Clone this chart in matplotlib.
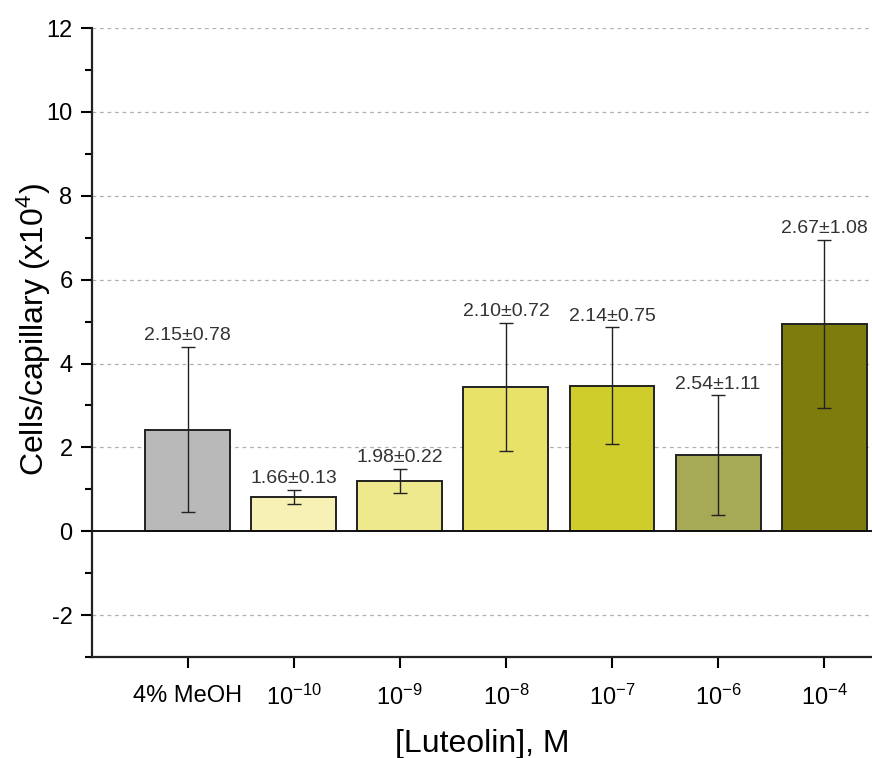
import numpy as np
import matplotlib.pyplot as plt
from matplotlib.ticker import MultipleLocator

plt.rcParams['font.family'] = ['Liberation Sans', 'DejaVu Sans']
plt.rcParams['mathtext.fontset'] = 'custom'
plt.rcParams['mathtext.rm'] = 'Liberation Sans'
plt.rcParams['mathtext.it'] = 'Liberation Sans:italic'
plt.rcParams['axes.unicode_minus'] = False

categories = ['4% MeOH', '$10^{-10}$', '$10^{-9}$', '$10^{-8}$', '$10^{-7}$', '$10^{-6}$', '$10^{-4}$']
cells = [2.42, 0.81, 1.20, 3.44, 3.47, 1.81, 4.94]
cells_err = [1.97, 0.17, 0.28, 1.52, 1.39, 1.43, 2.00]
ratio_labels = ['2.15\u00b10.78', '1.66\u00b10.13', '1.98\u00b10.22', '2.10\u00b10.72',
                '2.14\u00b10.75', '2.54\u00b11.11', '2.67\u00b11.08']
colors = ['#b9b9b9', '#f7f1b6', '#efe98e', '#e9e268', '#cfcd2c', '#a6a955', '#7e7c0c']

fig = plt.figure(figsize=(8.72, 7.58), dpi=100)
ax = fig.add_axes([0.1055, 0.1332, 0.8945, 0.8298])

x = np.arange(len(categories))
ax.bar(x, cells, width=0.8, color=colors, edgecolor='#222222', linewidth=1.4, zorder=3)
ax.errorbar(x, cells, yerr=cells_err, fmt='none', ecolor='#222222', elinewidth=1.0,
            capsize=5, capthick=1.0, zorder=4)

for xi, v, e, lab in zip(x, cells, cells_err, ratio_labels):
    ax.annotate(lab, (xi, v + e), xytext=(0, 2), textcoords='offset points',
                ha='center', va='bottom', fontsize=14, color='#333333', zorder=5)

ax.axhline(0, color='#111111', linewidth=1.4, zorder=3)
for gy in [-2, 2, 4, 6, 8, 10, 12]:
    ax.axhline(gy, color='#b0b0b0', linestyle=(0, (3, 3)), linewidth=0.9, zorder=1)

ax.set_xlim(-0.9, 6.45)
ax.set_ylim(-3, 12)
ax.set_xticks(x)
ax.set_xticklabels(categories, fontsize=17)
ax.yaxis.set_major_locator(MultipleLocator(2))
ax.yaxis.set_minor_locator(MultipleLocator(1))
ax.tick_params(axis='y', which='major', labelsize=17, length=8, width=1.5, direction='out', pad=6)
ax.tick_params(axis='y', which='minor', length=5, width=1.5, direction='out')
ax.tick_params(axis='x', length=8, width=1.5, direction='out', pad=12)

for side in ['top', 'right']:
    ax.spines[side].set_visible(False)
for side in ['left', 'bottom']:
    ax.spines[side].set_linewidth(1.6)
    ax.spines[side].set_color('#222222')

ax.set_ylabel('Cells/capillary (x10$^{4}$)', fontsize=23)
ax.yaxis.set_label_coords(-0.05, 0.52)
ax.set_xlabel('[Luteolin], M', fontsize=23, labelpad=14)

fig.savefig('out.png', dpi=100)
